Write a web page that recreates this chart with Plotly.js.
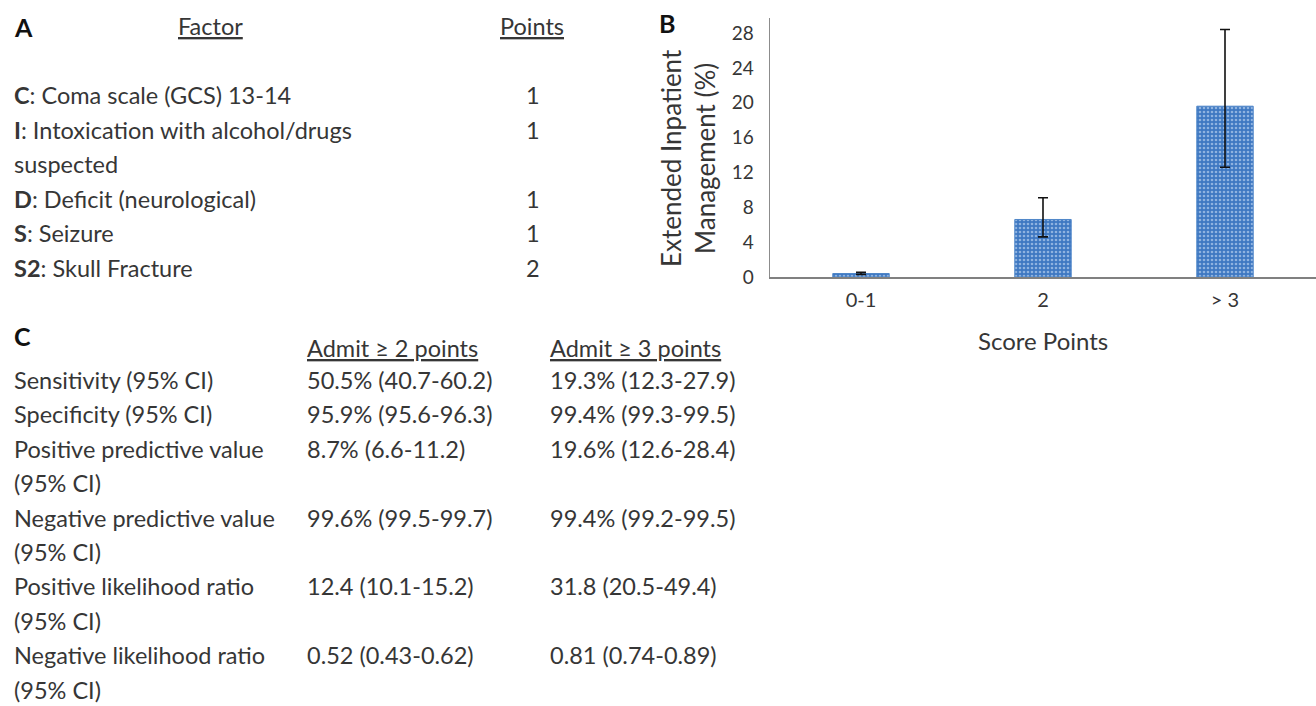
<!DOCTYPE html>
<html><head><meta charset="utf-8">
<script src="https://cdn.plot.ly/plotly-3.0.1.min.js"></script>
<style>html,body{margin:0;padding:0;background:#fff}</style>
</head><body><div id="chart" style="width:1316px;height:706px"></div>
<script>
// ---- Panel B data ----
const scoreCategories = ['0-1', '2', '> 3'];
const extendedPct = [0.4, 6.6, 19.6];
const ciLow = [0.3, 4.6, 12.6];
const ciHigh = [0.55, 9.1, 28.4];
const yTickVals = [0, 4, 8, 12, 16, 20, 24, 28];

// ---- Panel A data ----
const factorLines = [
  ['<b>C</b>: Coma scale (GCS) 13-14'],
  ['<b>I</b>: Intoxication with alcohol/drugs', 'suspected'],
  ['<b>D</b>: Deficit (neurological)'],
  ['<b>S</b>: Seizure'],
  ['<b>S2</b>: Skull Fracture']
];
const factorPoints = ['1', '1', '1', '1', '2'];

// ---- Panel C data ----
const metricLines = [
  ['Sensitivity (95% CI)'],
  ['Specificity (95% CI)'],
  ['Positive predictive value', '(95% CI)'],
  ['Negative predictive value', '(95% CI)'],
  ['Positive likelihood ratio', '(95% CI)'],
  ['Negative likelihood ratio', '(95% CI)']
];
const admit2 = ['50.5% (40.7-60.2)', '95.9% (95.6-96.3)', '8.7% (6.6-11.2)', '99.6% (99.5-99.7)', '12.4 (10.1-15.2)', '0.52 (0.43-0.62)'];
const admit3 = ['19.3% (12.3-27.9)', '99.4% (99.3-99.5)', '19.6% (12.6-28.4)', '99.4% (99.2-99.5)', '31.8 (20.5-49.4)', '0.81 (0.74-0.89)'];
const colHeaders = ['Admit ≥ 2 points', 'Admit ≥ 3 points'];

const W = 1316, H = 706;
const px = x => x / W;
const py = y => 1 - y / H;
const FONT = 'Lato, "Open Sans", sans-serif';
const TXT = '#363636';
const FS = 23.5;

const ann = [];
function addText(text, x, y, opts) {
  ann.push(Object.assign({
    text: text, x: px(x), y: py(y), xref: 'paper', yref: 'paper',
    xanchor: 'left', yanchor: 'middle', showarrow: false,
    font: {family: FONT, size: FS, color: TXT}
  }, opts || {}));
}

// Panel labels
const LBL = {family: FONT, size: 25, color: '#111'};
addText('<b>A</b>', 12, 27, {font: LBL});
addText('<b>B</b>', 657, 23, {font: LBL});
addText('<b>C</b>', 12, 336, {font: LBL});

// Panel A
addText('<u>Factor</u>', 210, 26, {xanchor: 'center'});
addText('<u>Points</u>', 532, 26, {xanchor: 'center'});
let lineA = 0;
const stepA = 34.6;
factorLines.forEach((lines, i) => {
  lines.forEach((t, j) => {
    addText(t, 12, 95 + (lineA + j) * stepA);
  });
  addText(factorPoints[i], 533, 95 + lineA * stepA, {xanchor: 'center'});
  lineA += lines.length;
});

// Panel C
addText('<u>' + colHeaders[0] + '</u>', 305, 348);
addText('<u>' + colHeaders[1] + '</u>', 548, 348);
let lineC = 0;
const stepC = 34.4;
metricLines.forEach((lines, i) => {
  lines.forEach((t, j) => {
    addText(t, 12, 380 + (lineC + j) * stepC);
  });
  addText(admit2[i], 305, 380 + lineC * stepC);
  addText(admit3[i], 548, 380 + lineC * stepC);
  lineC += lines.length;
});

// Panel B axis titles
addText('Extended Inpatient<br>Management (%)', 688, 158, {
  xanchor: 'center', yanchor: 'middle', textangle: -90,
  font: {family: FONT, size: 26, color: TXT}
});
addText('Score Points', 1043, 340, {xanchor: 'center', font: {family: FONT, size: 24, color: TXT}});

const trace = {
  type: 'bar',
  x: scoreCategories,
  y: extendedPct,
  width: 0.31,
  marker: {
    color: '#3e78c2',
    line: {color: '#4f86c8', width: 1},
    pattern: {shape: '.', fgcolor: '#8fb3e0', bgcolor: '#3e78c2', size: 4, solidity: 0.35}
  },
  error_y: {
    type: 'data', symmetric: false,
    array: extendedPct.map((v, i) => ciHigh[i] - v),
    arrayminus: extendedPct.map((v, i) => v - ciLow[i]),
    color: '#111', thickness: 1.6, width: 5
  },
  hoverinfo: 'skip'
};

const layout = {
  width: W, height: H,
  margin: {l: 0, r: 0, t: 0, b: 0},
  paper_bgcolor: '#fff', plot_bgcolor: '#fff',
  showlegend: false,
  font: {family: FONT, color: TXT},
  xaxis: {
    domain: [px(770), 1], range: [-0.5, 2.5], type: 'category',
    showline: true, linecolor: '#808080', linewidth: 2,
    showgrid: false, zeroline: false, fixedrange: true,
    ticks: 'outside', ticklen: 4, tickcolor: 'rgba(0,0,0,0)',
    tickfont: {family: FONT, size: 20, color: TXT}, automargin: false
  },
  yaxis: {
    domain: [py(277), py(18)], range: [0, 29.72],
    tickvals: yTickVals, showline: true, linecolor: '#8c8c8c', linewidth: 1.5,
    showgrid: false, zeroline: false, fixedrange: true,
    ticks: 'outside', ticklen: 11, tickcolor: 'rgba(0,0,0,0)',
    tickfont: {family: FONT, size: 19, color: TXT}, automargin: false
  },
  annotations: ann
};

Plotly.newPlot('chart', [trace], layout, {displayModeBar: false, staticPlot: true});
</script>
</body></html>
